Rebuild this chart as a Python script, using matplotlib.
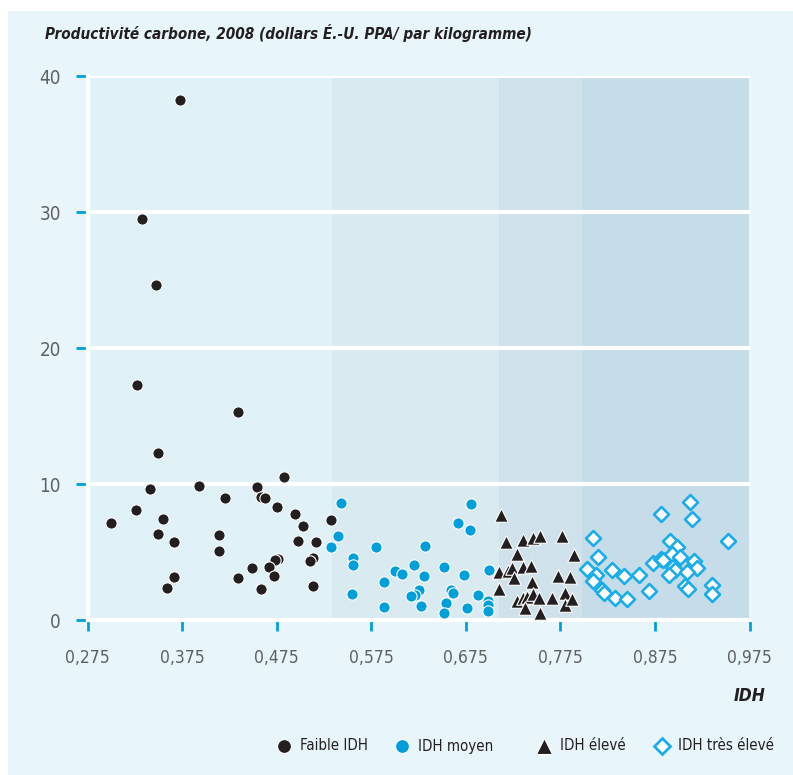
import numpy as np
import matplotlib.pyplot as plt
from matplotlib.patches import Rectangle
from matplotlib.lines import Line2D

# Faible IDH
low_x = [0.373, 0.333, 0.347, 0.327, 0.434, 0.350, 0.483, 0.341, 0.393, 0.454,
         0.420, 0.458, 0.463, 0.326, 0.475, 0.300, 0.355, 0.494, 0.503, 0.350,
         0.414, 0.366, 0.498, 0.517, 0.532, 0.414, 0.476, 0.473, 0.513, 0.510,
         0.449, 0.467, 0.366, 0.434, 0.472, 0.359, 0.458, 0.513]
low_y = [38.2, 29.5, 24.6, 17.3, 15.3, 12.3, 10.5, 9.6, 9.86, 9.76,
         8.97, 9.05, 8.97, 8.08, 8.3, 7.15, 7.42, 7.8, 6.88, 6.31,
         6.24, 5.75, 5.79, 5.72, 7.34, 5.10, 4.46, 4.39, 4.53, 4.36,
         3.79, 3.9, 3.18, 3.06, 3.25, 2.34, 2.27, 2.49]

# IDH moyen
med_x = [0.543, 0.540, 0.533, 0.556, 0.556, 0.555, 0.580, 0.589, 0.588, 0.600,
         0.608, 0.620, 0.632, 0.631, 0.626, 0.621, 0.617, 0.628, 0.652, 0.659,
         0.661, 0.654, 0.652, 0.673, 0.667, 0.679, 0.681, 0.676, 0.688, 0.700,
         0.699, 0.698, 0.698]
med_y = [8.58, 6.14, 5.40, 4.56, 4.07, 1.90, 5.38, 2.79, 0.94, 3.57,
         3.40, 4.04, 5.42, 3.25, 2.22, 1.83, 1.80, 1.04, 3.9, 2.2,
         1.95, 1.26, 0.5, 3.33, 7.1, 6.63, 8.5, 0.86, 1.83, 3.70,
         1.4, 1.1, 0.64]

# IDH élevé
high_x = [0.712, 0.718, 0.736, 0.746, 0.753, 0.777, 0.789, 0.729, 0.710, 0.720,
          0.724, 0.736, 0.744, 0.726, 0.710, 0.745, 0.773, 0.785, 0.729, 0.736,
          0.740, 0.746, 0.752, 0.738, 0.766, 0.780, 0.780, 0.787, 0.753]
high_y = [7.69, 5.77, 5.9, 6.04, 6.21, 6.14, 4.76, 4.86, 3.5, 3.62,
          3.82, 3.87, 3.94, 3.08, 2.27, 2.76, 3.2, 3.13, 1.4, 1.6,
          1.7, 1.9, 1.6, 0.91, 1.65, 1.95, 1.1, 1.53, 0.54]

# IDH très élevé
vhigh_x = [0.810, 0.815, 0.803, 0.813, 0.810, 0.819, 0.821, 0.830, 0.842, 0.833,
           0.845, 0.858, 0.869, 0.873, 0.881, 0.884, 0.881, 0.891, 0.898, 0.893,
           0.901, 0.894, 0.896, 0.890, 0.912, 0.914, 0.916, 0.920, 0.909, 0.907,
           0.910, 0.935, 0.935, 0.952]
vhigh_y = [6.04, 4.61, 3.72, 3.33, 2.88, 2.2, 2.02, 3.7, 3.25, 1.6,
           1.53, 3.33, 2.14, 4.16, 4.46, 4.42, 7.77, 5.79, 5.35, 4.86,
           4.61, 3.87, 3.68, 3.33, 8.65, 7.4, 4.31, 3.82, 3.5, 2.49,
           2.27, 2.57, 1.9, 5.79]

band_edges = [0.275, 0.534, 0.710, 0.798, 0.975]
band_colors = ["#e0f1f8", "#d9eaf1", "#cfe1eb", "#c6dde9"]
x_ticks = [0.275, 0.375, 0.475, 0.575, 0.675, 0.775, 0.875, 0.975]
y_ticks = [0, 10, 20, 30, 40]
legend_labels = ["Faible IDH", "IDH moyen", "IDH élevé", "IDH très élevé"]

plt.rcParams['font.family'] = ['DejaVu Sans']
plt.rcParams['font.stretch'] = 'condensed'

W, H = 793, 775
fig = plt.figure(figsize=(W / 100, H / 100), dpi=100, facecolor="#e8f6fc")
# white strips along the top and the left edge
fig.patches.append(Rectangle((0, 1 - 11 / H), 1, 11 / H, transform=fig.transFigure,
                             facecolor="white", edgecolor="none", zorder=-1))
fig.patches.append(Rectangle((0, 0), 8 / W, 1, transform=fig.transFigure,
                             facecolor="white", edgecolor="none", zorder=-1))

ax = fig.add_axes([87.5 / W, 1 - 620 / H, 662 / W, 544 / H])
ax.set_zorder(2)
ax.set_facecolor("none")
ax.set_xlim(0.275, 0.975)
ax.set_ylim(0, 40)

for i in range(len(band_colors)):
	ax.axvspan(band_edges[i], band_edges[i + 1], color=band_colors[i], lw=0, zorder=0)
for yv in y_ticks[1:]:
	ax.axhline(yv, color="white", lw=3, zorder=1)

ax.scatter(low_x, low_y, s=66, marker="o", color="#231f20", edgecolors="white", linewidths=0.8, zorder=3)
ax.scatter(med_x, med_y, s=66, marker="o", color="#009fda", edgecolors="white", linewidths=0.8, zorder=3)
ax.scatter(high_x, high_y, s=95, marker="^", color="#231f20", edgecolors="white", linewidths=0.8, zorder=3)
ax.scatter(vhigh_x, vhigh_y, s=58, marker="D", facecolor="white", edgecolors="#1badea", linewidths=1.9, zorder=3)

for side in ["top", "right"]:
	ax.spines[side].set_visible(False)
for side in ["left", "bottom"]:
	ax.spines[side].set_color("white")
	ax.spines[side].set_linewidth(3)
	ax.spines[side].set_zorder(2)

ax.set_xticks(x_ticks)
ax.set_xticklabels([("%.3f" % v).replace(".", ",") for v in x_ticks])
ax.set_yticks(y_ticks)
ax.set_yticklabels([str(v) for v in y_ticks])
ax.tick_params(axis="x", direction="out", length=8, width=2, color="#00a0dc", pad=13,
               labelsize=12.5, labelcolor="#5f6062")
ax.tick_params(axis="y", direction="out", length=9, width=2, color="#00a0dc", pad=10,
               labelsize=13.5, labelcolor="#5f6062")

fig.text(45 / W, 1 - 33 / H, "Productivité carbone, 2008 (dollars É.-U. PPA/ par kilogramme)",
         fontsize=11, fontweight="bold", style="italic", color="#231f20", va="center", ha="left")
fig.text(766 / W, 1 - 696 / H, "IDH", fontsize=12.5, fontweight="bold", style="italic",
         color="#231f20", va="center", ha="right")

# legend entries placed one by one along the bottom
leg_styles = [
	dict(marker="o", ms=10, color="#231f20", mec="white", mew=0.8),
	dict(marker="o", ms=10, color="#009fda", mec="white", mew=0.8),
	dict(marker="^", ms=11, color="#231f20", mec="white", mew=0.8),
	dict(marker="D", ms=8.5, mfc="white", mec="#1badea", mew=2),
]
leg_marker_px = [284, 402, 544, 662]
leg_y = 1 - 746 / H
for lab, sty, mx in zip(legend_labels, leg_styles, leg_marker_px):
	fig.add_artist(Line2D([mx / W], [leg_y], transform=fig.transFigure, ls="none", **sty))
	fig.text((mx + 16) / W, leg_y, lab, fontsize=10.8, color="#231f20", va="center", ha="left")

fig.savefig("out.png", dpi=100, facecolor=fig.get_facecolor())
